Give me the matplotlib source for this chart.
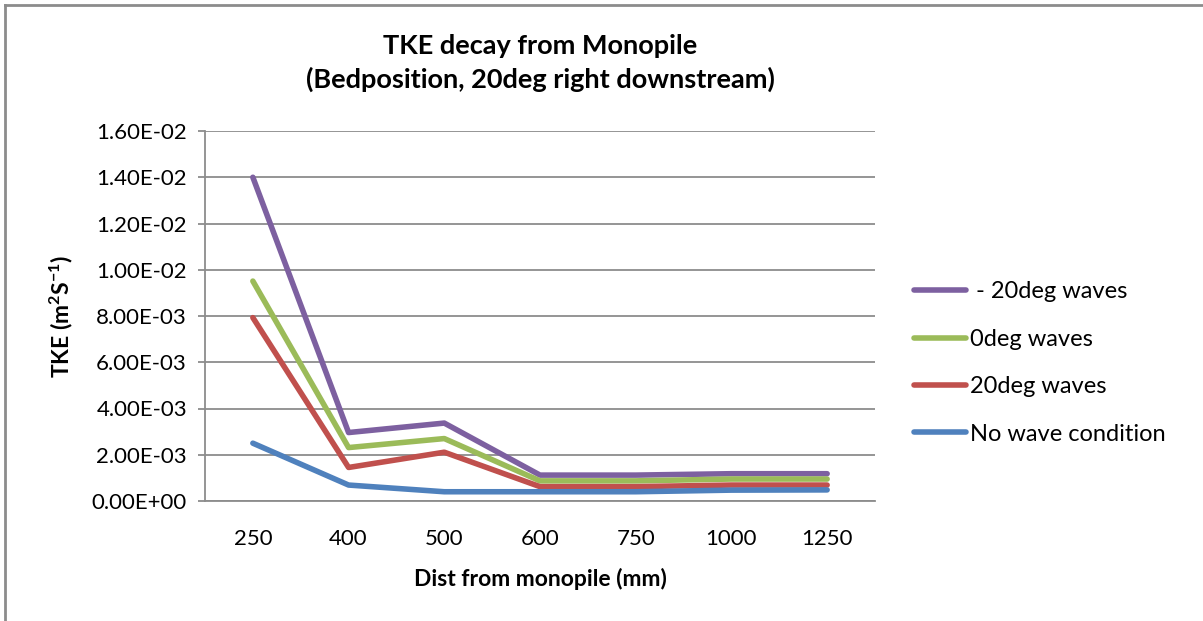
import matplotlib
matplotlib.use("Agg")
import matplotlib.pyplot as plt
from matplotlib.lines import Line2D
from matplotlib.ticker import FuncFormatter

categories = ["250", "400", "500", "600", "750", "1000", "1250"]
neg20 = [0.0140, 0.00296, 0.00337, 0.00112, 0.00112, 0.00118, 0.00118]
deg0 = [0.00951, 0.00231, 0.00270, 0.00087, 0.00087, 0.00095, 0.00095]
deg20 = [0.00793, 0.00145, 0.00211, 0.00062, 0.00062, 0.00069, 0.00069]
nowave = [0.00250, 0.00069, 0.00040, 0.00040, 0.00040, 0.00047, 0.00048]
series_names = [" - 20deg waves", "0deg waves", "20deg waves", "No wave condition"]
yticks = [0, 0.002, 0.004, 0.006, 0.008, 0.010, 0.012, 0.014, 0.016]

plt.rcParams['font.family'] = ['Lato', 'DejaVu Sans']
plt.rcParams['mathtext.fontset'] = 'custom'
plt.rcParams['mathtext.rm'] = 'Lato'
plt.rcParams['mathtext.bf'] = 'Lato:bold'
plt.rcParams['mathtext.default'] = 'bf'

fig = plt.figure(figsize=(12.03, 6.21), dpi=100)
ax = fig.add_axes([205/1203, 1-501/621, 670/1203, 370/621])

x = list(range(len(categories)))
colors = ['#7D60A0', '#9BBB59', '#C0504D', '#4F81BD']
data = [neg20, deg0, deg20, nowave]
for d, c, n in zip(data, colors, series_names):
    ax.plot(x, d, color=c, lw=4, solid_capstyle='round', solid_joinstyle='round', label=n)

ax.set_xlim(-0.5, len(categories) - 0.5)
ax.set_ylim(0, 0.016)
ax.set_xticks(x)
ax.set_xticklabels(categories)
ax.set_yticks(yticks)
ax.yaxis.set_major_formatter(FuncFormatter(lambda v, p: ("%.2E" % v)))
ax.yaxis.grid(True, color='#8C8C8C', lw=1.3)
ax.set_axisbelow(True)
for s in ['top', 'right']:
    ax.spines[s].set_visible(False)
for s in ['left', 'bottom']:
    ax.spines[s].set_color('#8C8C8C')
    ax.spines[s].set_linewidth(1.3)
ax.tick_params(axis='x', length=0, pad=20, labelsize=16)
ax.tick_params(axis='y', length=5, color='#8C8C8C', width=1.3, pad=8, labelsize=16)

ax.set_xlabel("Dist from monopile (mm)", fontsize=16.5, fontweight='bold', labelpad=14)
ax.set_ylabel("TKE (m$^{2}$S$^{-1}$)", fontsize=16.5, fontweight='bold', labelpad=12)

fig.text(540/1203, 1-63/621, "TKE decay from Monopile\n(Bedposition, 20deg right downstream)",
         ha='center', va='center', fontsize=19.5, fontweight='bold', linespacing=1.4)

leg = ax.legend(loc='center left', bbox_to_anchor=(700/670, (501-363)/370), frameon=False,
                fontsize=17, handlelength=2.2, handletextpad=0.15, labelspacing=1.12,
                borderaxespad=0)

fig.add_artist(Line2D([5/1203, 5/1203], [0, 1-5/621], color='#8C8C8C', lw=2, transform=fig.transFigure))
fig.add_artist(Line2D([5/1203, 1], [1-5/621, 1-5/621], color='#8C8C8C', lw=2, transform=fig.transFigure))

fig.savefig("out.png", dpi=100)
